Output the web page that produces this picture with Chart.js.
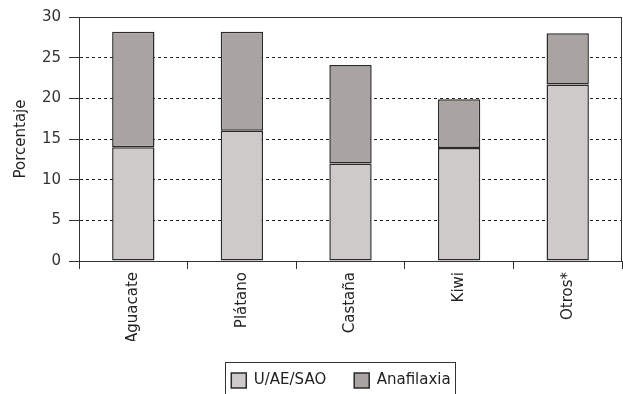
<!DOCTYPE html>
<html>
<head>
<meta charset="utf-8">
<script src="https://cdn.jsdelivr.net/npm/chart.js@4"></script>
<style>
  body { margin: 0; background: #fff; }
  #wrap { width: 623px; height: 394px; }
</style>
</head>
<body>
<div id="wrap"><canvas id="grafico"></canvas></div>
<script>
const alimentos = ['Aguacate', 'Plátano', 'Castaña', 'Kiwi', 'Otros*'];
const uaesao = [14, 16, 12, 13.9, 21.7];
const anafilaxia = [14.2, 12.2, 12.1, 6, 6.3];
const ticksY = [0, 5, 10, 15, 20, 25, 30];

const fuente = { family: 'DejaVu Sans, sans-serif', size: 15 };

// marco del area (arriba y derecha) y caja de la leyenda
const marco = {
  id: 'marco',
  afterLayout(chart) {
    // la leyenda del original esta algo desplazada a la derecha
    const lg = chart.legend;
    lg.left += 60;
    lg.top += 4;
    lg.bottom += 4;
  },
  afterDraw(chart) {
    const ctx = chart.ctx;
    const a = chart.chartArea;
    ctx.save();
    ctx.strokeStyle = '#333';
    ctx.lineWidth = 1;
    ctx.beginPath();
    ctx.moveTo(a.left, a.top + 0.5);
    ctx.lineTo(a.right - 0.5, a.top + 0.5);
    ctx.lineTo(a.right - 0.5, a.bottom);
    ctx.stroke();
    const items = chart.legend.legendHitBoxes;
    if (items.length) {
      const x0 = items[0].left - 6;
      const last = items[items.length - 1];
      const x1 = last.left + last.width + 5;
      ctx.strokeRect(Math.round(x0) + 0.5, 362.5, Math.round(x1 - x0), 60);
    }
    ctx.restore();
  }
};

new Chart(document.getElementById('grafico').getContext('2d'), {
  type: 'bar',
  data: {
    labels: alimentos,
    datasets: [{
      label: 'U/AE/SAO',
      data: uaesao,
      backgroundColor: '#cecac9',
      borderColor: '#2b2b2b',
      borderWidth: 1.5,
      borderSkipped: false
    }, {
      label: 'Anafilaxia',
      data: anafilaxia,
      backgroundColor: '#a9a4a1',
      borderColor: '#2b2b2b',
      borderWidth: 1.5,
      borderSkipped: false
    }]
  },
  options: {
    responsive: true,
    maintainAspectRatio: false,
    animation: false,
    layout: { padding: { top: 16, right: 1, left: 0, bottom: 0 } },
    datasets: { bar: { barPercentage: 0.39, categoryPercentage: 1 } },
    plugins: {
      tooltip: { enabled: false },
      legend: {
        position: 'bottom',
        labels: {
          color: '#222',
          font: fuente,
          boxWidth: 15,
          boxHeight: 15,
          padding: 28
        }
      }
    },
    scales: {
      x: {
        stacked: true,
        afterFit(scale) {
          scale.height = 80;
          scale.paddingLeft = 0;
          scale.paddingRight = 0;
        },
        grid: { offset: true, drawOnChartArea: false, drawTicks: true, tickLength: 8, color: '#333' },
        border: { color: '#333', width: 1 },
        ticks: { color: '#222', font: fuente, maxRotation: 90, minRotation: 90, padding: 3 }
      },
      y: {
        stacked: true,
        min: 0,
        max: 30,
        afterBuildTicks(scale) { scale.ticks = ticksY.map(v => ({ value: v })); },
        afterFit(scale) { scale.width = 79; },
        grid: {
          color: ctx => (ctx.tick && (ctx.tick.value === 0)) ? 'rgba(0,0,0,0)' : '#222',
          tickColor: '#333',
          tickLength: 10,
          lineWidth: 1
        },
        border: { color: '#333', width: 1, dash: [3, 3] },
        ticks: { color: '#333', font: fuente, padding: 8 },
        title: { display: true, text: 'Porcentaje', color: '#222', font: fuente, padding: 12 }
      }
    }
  },
  plugins: [marco]
});
</script>
</body>
</html>
